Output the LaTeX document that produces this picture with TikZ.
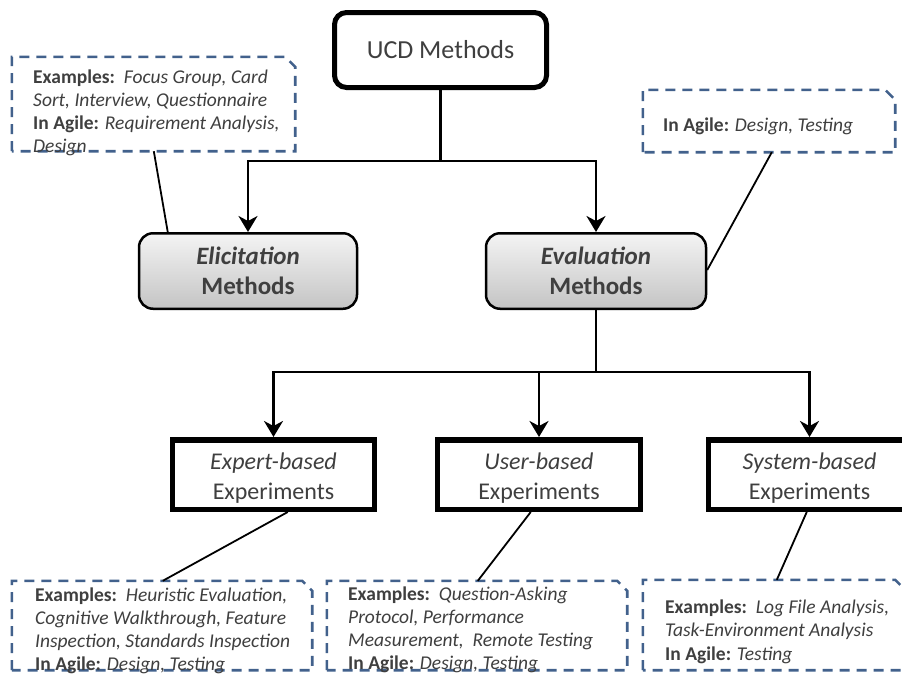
\documentclass[tikz,border=0pt]{standalone}
\usepackage{fontspec}
\setmainfont{Carlito}
\usetikzlibrary{arrows.meta,calc}
\definecolor{txt}{HTML}{3F3F3F}
\definecolor{noteline}{HTML}{42618C}
\definecolor{shadetop}{HTML}{F4F4F4}
\definecolor{shadebot}{HTML}{C4C4C4}

% dashed outline with a clipped upper right corner around a note frame
\newcommand{\noteframe}[1]{%
  \draw[noteline dash] (#1.south west) -- (#1.north west)
    -- ($(#1.north east)+(-10,0)$) -- ($(#1.north east)+(0,10)$)
    -- (#1.south east) -- cycle;}

\begin{document}
\begin{tikzpicture}[x=1pt,y=-1pt,
  rootbox/.style={draw=black, line width=5pt, rounded corners=12pt, fill=white,
    minimum width=212pt, minimum height=75pt, inner sep=0pt, text=txt,
    font=\fontsize{26}{30}\selectfont},
  methodbox/.style={draw=black, line width=2.5pt, rounded corners=14pt,
    top color=shadetop, bottom color=shadebot,
    minimum width=218pt, minimum height=75.5pt, inner sep=0pt, align=center,
    text=txt, font=\fontsize{25}{30}\selectfont\bfseries},
  expbox/.style={draw=black, line width=5.5pt, fill=white,
    minimum width=202pt, minimum height=69.5pt, inner sep=0pt},
  exptext/.style={align=center, inner sep=0pt, text=txt,
    font=\fontsize{24}{30}\selectfont},
  notearea/.style={rectangle, draw=none, inner sep=0pt},
  noteline dash/.style={draw=noteline, line width=2.6pt,
    dash pattern=on 10pt off 7pt},
  notetext/.style={anchor=base west, align=left, inner sep=0pt, text=txt,
    font=\fontsize{19.5}{23}\selectfont},
  link/.style={draw=black, line width=2.2pt},
  leader/.style={draw=black, line width=1.8pt},
  arr/.style={link, -{Stealth[length=16pt, width=19pt, inset=5pt]}}
]
\clip (0,0) rectangle (902,675);
\fill[white] (0,0) rectangle (902,675);

% main hierarchy
\node[rootbox] (ucd) at (440.5,50) {UCD Methods};
\node[methodbox] (elic) at (248,271) {\textit{Elicitation}\\Methods};
\node[methodbox, minimum width=220pt] (eval) at (596,271) {\textit{Evaluation}\\Methods};
\node[expbox] (expert) at (273.5,474.5) {};
\node[expbox, minimum width=203pt] (user) at (539,474.5) {};
\node[expbox] (system) at (809.5,474.5) {};
\node[exptext] (expertT) at ($(expert.center)+(0,3.5)$) {\textit{Expert-based}\\Experiments};
\node[exptext] (userT) at ($(user.center)+(0,3.5)$) {\textit{User-based}\\Experiments};
\node[exptext] (systemT) at ($(system.center)+(0,3.5)$) {\textit{System-based}\\Experiments};

% dashed annotation frames
\node[notearea, minimum width=283pt, minimum height=94pt] (nTL) at (153.5,104) {};
\node[notearea, minimum width=252pt, minimum height=62pt] (nTR) at (769,121) {};
\node[notearea, minimum width=300pt, minimum height=89pt] (nBL) at (162,625.5) {};
\node[notearea, minimum width=300pt, minimum height=89pt] (nBM) at (477,625.5) {};
\node[notearea, minimum width=262pt, minimum height=90pt] (nBR) at (774,625) {};
\noteframe{nTL}
\noteframe{nTR}
\noteframe{nBL}
\noteframe{nBM}
\noteframe{nBR}

% annotation texts (anchored at the baseline of their last line)
\node[notetext] (tTL) at (33,152) {\textbf{Examples:}\ \ \textit{Focus Group, Card}\\
  \textit{Sort, Interview, Questionnaire}\\
  \textbf{In Agile:} \textit{Requirement Analysis,}\\
  \textit{Design}};
\node[notetext] (tTR) at (663,131) {\textbf{In Agile:} \textit{Design, Testing}};
\node[notetext] (tBL) at (35,670) {\textbf{Examples:}\ \ \textit{Heuristic Evaluation,}\\
  \textit{Cognitive Walkthrough, Feature}\\
  \textit{Inspection, Standards Inspection}\\
  \textbf{In Agile:} \textit{Design, Testing}};
\node[notetext] (tBM) at (348,669.5) {\textbf{Examples:}\ \ \textit{Question-Asking}\\
  \textit{Protocol, Performance}\\
  \textit{Measurement,\ \ Remote Testing}\\
  \textbf{In Agile:} \textit{Design, Testing}};
\node[notetext, font=\fontsize{19.5}{23.5}\selectfont] (tBR) at (665,660) {\textbf{Examples:}\ \ \textit{Log File Analysis,}\\
  \textit{Task-Environment Analysis}\\
  \textbf{In Agile:} \textit{Testing}};

% tree connectors
\coordinate (j1) at (440.5,161);
\coordinate (j2) at (596,372);
\draw[link] (ucd.south) -- (j1);
\draw[arr] (j1) -| (elic.north);
\draw[arr] (j1) -| (eval.north);
\draw[link] (eval.south) -- (j2);
\draw[arr] (j2) -| (expert.north);
\draw[arr] (j2) -| (user.north);
\draw[arr] (j2) -| (system.north);

% annotation leaders
\draw[leader] ($(nTL.south west)+(142,0)$) -- ($(elic.north west)+(30,0)$);
\draw[leader] ($(nTR.south west)+(129,0)$) -- ($(eval.north east)+(0,38)$);
\draw[leader] ($(expert.south west)+(118,0)$) -- ($(nBL.north west)+(151,0)$);
\draw[leader] ($(user.south west)+(96,0)$) -- ($(nBM.north west)+(151,0)$);
\draw[leader] ($(system.south west)+(101,0)$) -- ($(nBR.north west)+(134,0)$);
\end{tikzpicture}
\end{document}
